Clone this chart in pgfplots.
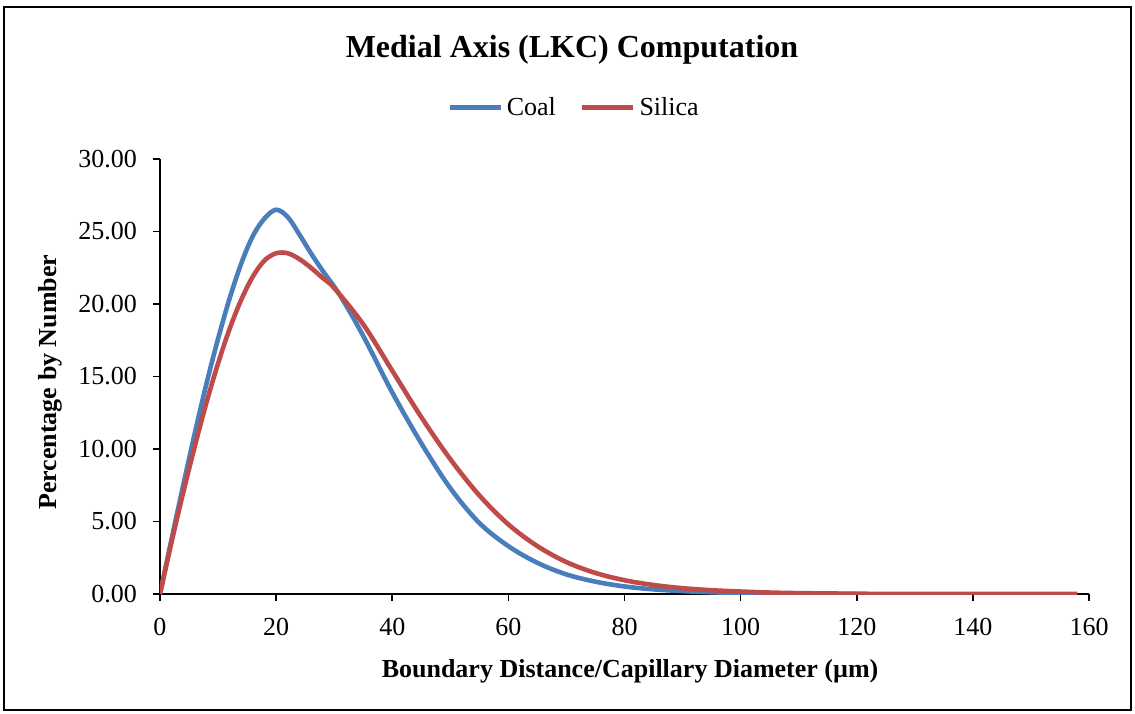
\documentclass[border=0pt]{standalone}
\usepackage{fontspec}
\setmainfont{Liberation Serif}
\usepackage{pgfplots}
\pgfplotsset{compat=1.18}
\definecolor{coalblue}{HTML}{4A7EBB}
\definecolor{silicared}{HTML}{BE4B48}
\begin{document}
\begin{tikzpicture}
\begin{axis}[
  at={(0,0)}, anchor=south west,
  scale only axis, width=464.5pt, height=217.5pt,
  xmin=0, xmax=160, ymin=0, ymax=30,
  xtick={0,20,...,160}, ytick={0,5,...,30},
  axis x line*=bottom, axis y line*=left,
  axis line style={-, line width=0.8pt, black},
  tick align=outside, major tick length=3.5pt,
  tick style={black, line width=0.8pt},
  /pgf/number format/assume math mode=true,
  ticklabel style={font=\fontsize{13}{15}\selectfont},
  xticklabel style={yshift=-5pt},
  yticklabel style={xshift=-4.5pt, /pgf/number format/.cd, fixed, fixed zerofill, precision=2},
  title={Medial Axis (LKC) Computation},
  title style={at={(axis description cs:0.4435,1.2575)}, anchor=center, yshift=-7.5pt, font=\bfseries\fontsize{16}{19}\selectfont},
  xlabel={Boundary Distance/Capillary Diameter (µm)},
  xlabel style={at={(axis description cs:0.506,-0.177)}, anchor=center, font=\bfseries\fontsize{13}{15}\selectfont},
  ylabel={Percentage by Number},
  ylabel style={at={(axis description cs:-0.118,0.487)}, anchor=center, font=\bfseries\fontsize{13}{15}\selectfont},
  legend style={at={(axis description cs:0.4467,1.118)}, anchor=center, draw=none, fill=none,
    legend columns=2, font=\fontsize{13}{15}\selectfont,
    /tikz/every even column/.append style={column sep=10pt}},
  legend image code/.code={\draw[#1, line width=2.3pt] (0pt,0pt) -- (25.5pt,0pt);},
]
\addplot[coalblue, line width=2.3pt, smooth, tension=0.55] coordinates {
 (0,0) (2,3.8) (4,7.5) (6,11.1) (8,14.5) (10,17.6) (12,20.4) (14,22.8)
 (16,24.7) (18,25.9) (20,26.5) (22,26.0) (24,24.8) (26,23.5) (28,22.3)
 (31,20.6) (35,17.8) (40,13.9) (45,10.4) (50,7.3) (55,4.9) (60,3.3)
 (65,2.15) (70,1.35) (75,0.85) (80,0.52) (85,0.32) (90,0.2) (95,0.12)
 (100,0.07) (110,0.02) (120,0)
};
\addlegendentry{Coal}
\addplot[silicared, line width=2.3pt, smooth, tension=0.55] coordinates {
 (0,0) (2,3.6) (4,7.0) (6,10.2) (8,13.2) (10,15.9) (12,18.3) (14,20.3)
 (16,21.9) (18,23.0) (20,23.5) (22,23.5) (24,23.1) (26,22.5) (28,21.8)
 (30,21.1) (35,18.6) (40,15.4) (45,12.2) (50,9.3) (55,6.8) (60,4.8)
 (65,3.3) (70,2.2) (75,1.45) (80,0.95) (85,0.62) (90,0.4) (95,0.26)
 (100,0.17) (105,0.1) (110,0.06) (120,0.02) (130,0) (158,0)
};
\addlegendentry{Silica}
\end{axis}
\draw[line width=1pt] (-78pt,-58pt) rectangle (485.5pt,293.5pt);
\pgfresetboundingbox
\useasboundingbox (-80pt,-59.5pt) rectangle (487.5pt,297pt);
\end{tikzpicture}
\end{document}
